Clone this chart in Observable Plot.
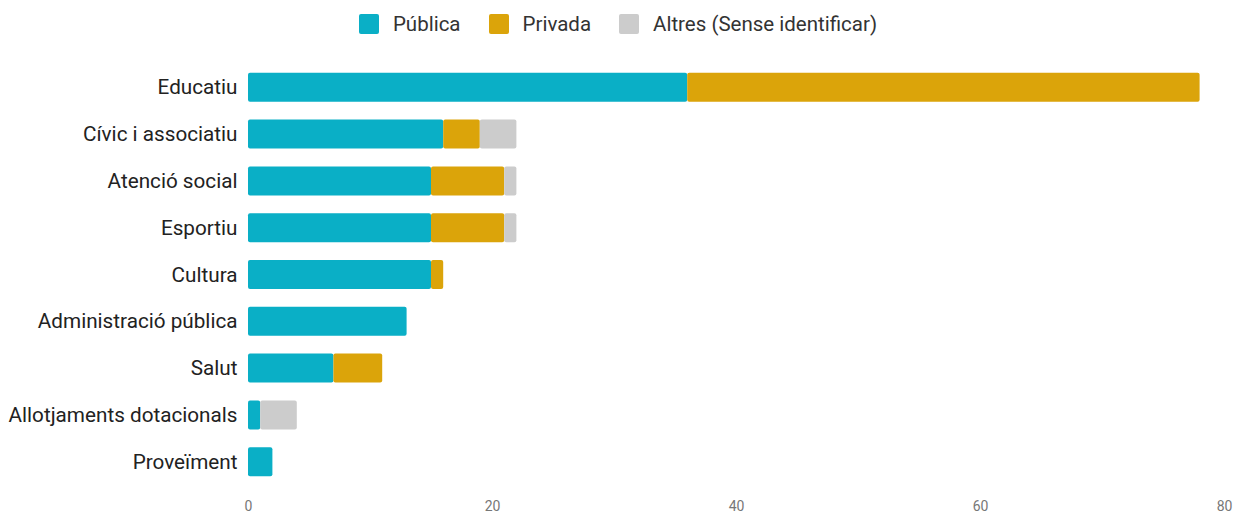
<!DOCTYPE html>
<html>
<head>
<meta charset="utf-8">
<script src="https://cdn.jsdelivr.net/npm/d3@7"></script>
<script src="https://cdn.jsdelivr.net/npm/@observablehq/plot@0.6"></script>
<style>
  html, body { margin: 0; padding: 0; background: #fff; }
  body { width: 1234px; font-family: Roboto, "Noto Sans", sans-serif; }
  #legend { height: 50px; display: flex; justify-content: center; align-items: center; gap: 28px; font-size: 20.5px; color: #333; box-sizing: border-box; padding-bottom: 3px; padding-left: 2px;}
  .item { display: flex; align-items: center; }
  .sw { width: 20px; height: 20px; border-radius: 2px; margin-right: 14px; }
</style>
</head>
<body>
<div id="legend"></div>
<div id="chart"></div>
<script>
const categories = ["Educatiu", "Cívic i associatiu", "Atenció social", "Esportiu", "Cultura", "Administració pública", "Salut", "Allotjaments dotacionals", "Proveïment"];
const publica = [36, 16, 15, 15, 15, 13, 7, 1, 2];
const privada = [42, 3, 6, 6, 1, 0, 4, 0, 0];
const altres  = [0, 3, 1, 1, 0, 0, 0, 3, 0];
const seriesNames = ["Pública", "Privada", "Altres (Sense identificar)"];
const seriesColors = ["#0aafc6", "#dba40a", "#cccccc"];
const xTicks = [0, 20, 40, 60, 80];

const seriesValues = [publica, privada, altres];
const data = [];
categories.forEach((c, i) => {
  seriesNames.forEach((s, j) => {
    data.push({cat: c, type: s, value: seriesValues[j][i]});
  });
});

const legend = document.getElementById("legend");
seriesNames.forEach((s, j) => {
  const it = document.createElement("div");
  it.className = "item";
  it.innerHTML = `<div class="sw" style="background:${seriesColors[j]}"></div><span>${s}</span>`;
  legend.appendChild(it);
});

const chart = Plot.plot({
  width: 1234,
  height: 466,
  marginLeft: 248,
  marginRight: 10,
  marginTop: 5,
  marginBottom: 22,
  style: {fontFamily: "Roboto, sans-serif", background: "#fff"},
  x: {domain: [0, 80], ticks: xTicks, label: null, tickSize: 0, tickPadding: 8},
  y: {domain: categories, label: null, padding: 0.38, round: false, tickSize: 0, tickPadding: 11},
  color: {domain: seriesNames, range: seriesColors},
  marks: [
    Plot.barX(data.filter(d => d.value > 0), {y: "cat", x: "value", fill: "type", rx: 2}),
    Plot.axisY({tickSize: 0, tickPadding: 11, fontSize: 20.7, fill: "#222", label: null}),
    Plot.axisX({ticks: xTicks, tickSize: 0, tickPadding: 7, fontSize: 14, fill: "#777", label: null})
  ]
});
document.getElementById("chart").appendChild(chart);
</script>
</body>
</html>
